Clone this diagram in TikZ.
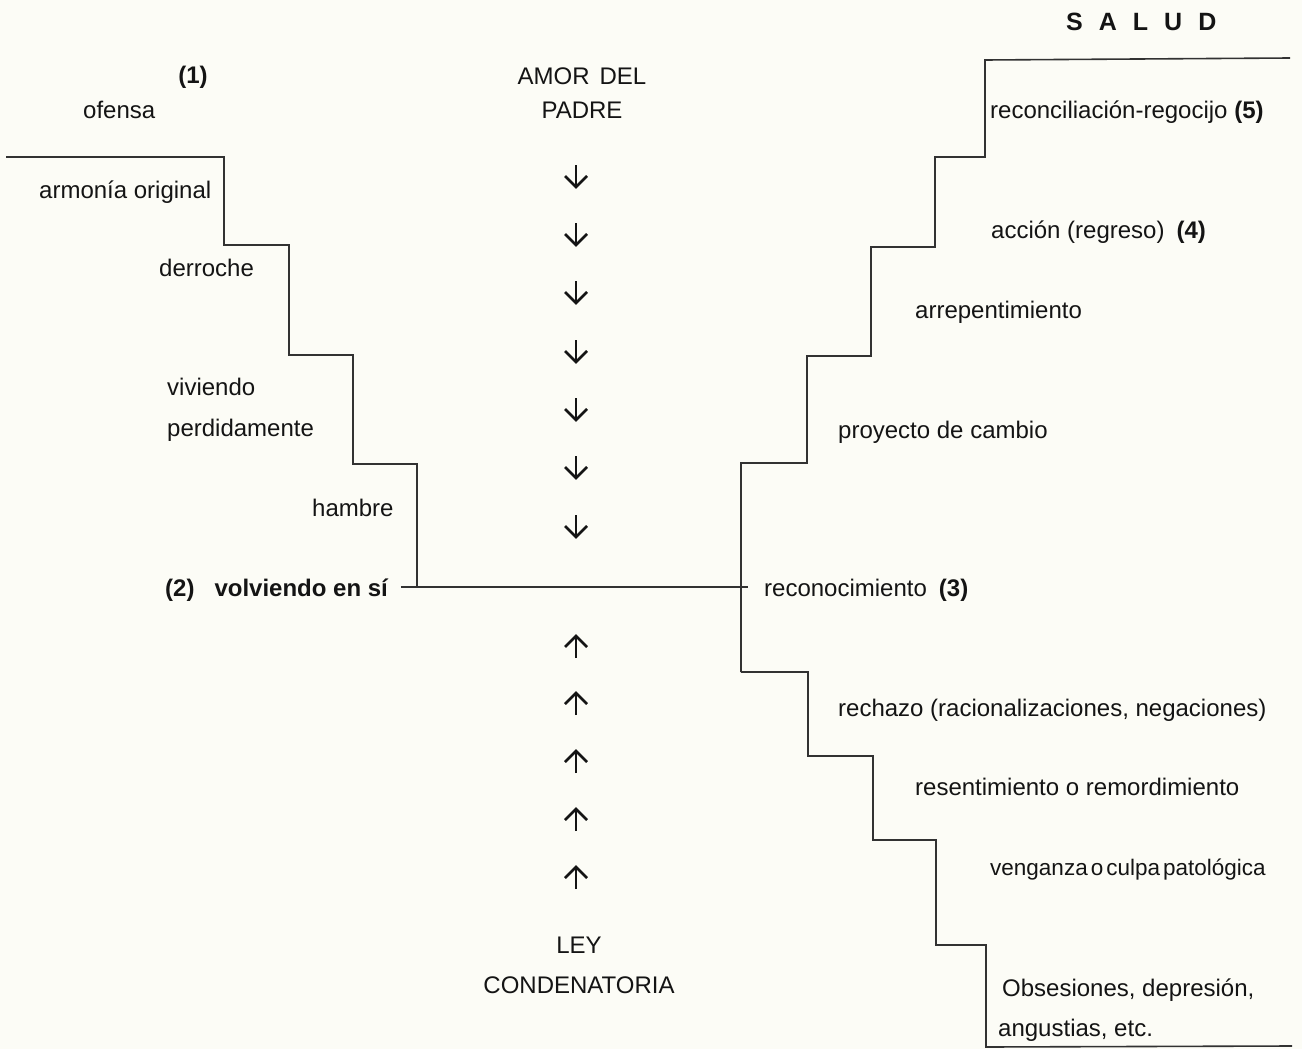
\documentclass[tikz,border=0pt]{standalone}
\usepackage{fontspec}
\setmainfont{Liberation Sans}
\definecolor{ink}{RGB}{20,20,20}
\definecolor{linec}{RGB}{50,50,50}
\definecolor{bg}{RGB}{252,252,246}
\begin{document}
\begin{tikzpicture}[x=1pt,y=-1pt,
  txt/.style={font=\fontsize{24}{28}\selectfont, text=ink, inner sep=0pt, yshift=-6pt},
  lt/.style={txt, anchor=mid west},
  ct/.style={txt, anchor=mid},
  stair/.style={draw=linec, line width=1.6pt, line join=miter},
  arr/.style={draw=ink, line width=2.6pt, line cap=butt, line join=miter}]
\fill[bg] (0,0) rectangle (1302,1049);
\useasboundingbox (0,0) rectangle (1302,1049);

% left texts
\node[ct] (uno) at (193,75) {\textbf{(1)}};
\node[lt] (ofensa) at (83,110) {ofensa};
\node[lt] (armonia) at (39,190) {armonía original};
\node[lt] (derroche) at (159,268) {derroche};
\node[lt] (viviendo) at (167,387) {viviendo};
\node[lt] (perdida) at (167,428) {perdidamente};
\node[lt] (hambre) at (312,508) {hambre};
\node[lt] (vol) at (165,588) {\textbf{(2)\hspace{20pt}volviendo en sí}};

% centre texts
\node[ct] (amor) at (582,76) {AMOR\hspace{10pt}DEL};
\node[ct] (padre) at (582,110) {PADRE};
\node[ct] (ley) at (579,945) {LEY};
\node[ct] (cond) at (579,985) {CONDENATORIA};

% right texts
\node[lt, font=\fontsize{25}{28}\selectfont] (salud) at (1066,22) {\textbf{S\kern16pt A\kern16pt L\kern16pt U\kern16pt D}};
\node[lt] (recon) at (990,110) {reconciliación-regocijo \textbf{(5)}};
\node[lt] (accion) at (991,230) {acción (regreso)\hspace{12pt}\textbf{(4)}};
\node[lt] (arrep) at (915,310) {arrepentimiento};
\node[lt] (proy) at (838,430) {proyecto de cambio};
\node[lt] (rec) at (764,588) {reconocimiento\hspace{12pt}\textbf{(3)}};
\node[lt] (rech) at (838,708) {rechazo (racionalizaciones, negaciones)};
\node[lt] (resent) at (915,787) {resentimiento o remordimiento};
\node[lt, font=\fontsize{22.5}{28}\selectfont] (veng) at (990,867) {venganza\hspace{3pt}o\hspace{3pt}culpa\hspace{3pt}patológica};
\node[lt] (obs) at (1002,988) {Obsesiones, depresión,};
\node[lt] (ang) at (998,1028) {angustias, etc.};

% left staircase
\draw[stair] (6,157) -- (224,157) -- (224,245) -- (289,245) -- (289,355)
  -- (353,355) -- (353,464) -- (417,464) -- (417,587);
% middle horizontal
\draw[stair] ([xshift=12pt]vol.east |- 0,587) -- ([xshift=-16pt]rec.west |- 0,587);
% right staircase, upper
\draw[stair] (741,672) -- (741,463) -- (807,463) -- (807,356) -- (871,356)
  -- (871,247) -- (935,247) -- (935,157) -- (985,157) -- (985,60) -- (1290,58);
% right staircase, lower
\draw[stair] (741,672) -- (808,672) -- (808,756) -- (873,756) -- (873,840)
  -- (936,840) -- (936,945) -- (986,945) -- (986,1047) -- (1292,1046);

% arrows down
\foreach \y in {176,234,292,351,409,467,526}{
  \draw[arr] (576,\y-11) -- (576,\y+10);
  \draw[arr] (565,\y) -- (576,\y+11) -- (587,\y);
}
% arrows up
\foreach \y in {647,704,762,820,878}{
  \draw[arr] (576,\y+11) -- (576,\y-10);
  \draw[arr] (565,\y) -- (576,\y-11) -- (587,\y);
}
\end{tikzpicture}
\end{document}
